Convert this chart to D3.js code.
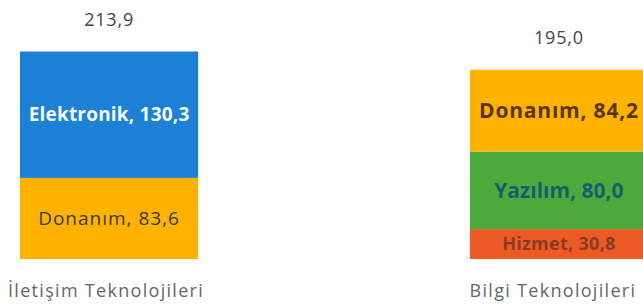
<!DOCTYPE html>
<html>
<head>
<meta charset="utf-8">
<script src="https://cdn.jsdelivr.net/npm/d3@7"></script>
<style>
  body { margin: 0; background: #fff; }
  text { font-family: "Open Sans", Lato, sans-serif; }
</style>
</head>
<body>
<svg id="chart" width="643" height="306"></svg>
<script>
// categories and stacked segments (bottom to top)
var categories = ["İletişim Teknolojileri", "Bilgi Teknolojileri"];
var segmentNames = [
  ["Donanım", "Elektronik"],
  ["Hizmet", "Yazılım", "Donanım"]
];
var segmentValues = [
  [83.6, 130.3],
  [30.8, 80.0, 84.2]
];
var totalLabels = ["213,9", "195,0"];

var fills = { "Elektronik": "#1b80d6", "Donanım": "#ffb200", "Yazılım": "#4caa3c", "Hizmet": "#ee5a26" };
// color, weight, size, letter spacing
var labelStyle = [
  { "Donanım": ["#3a3a3a", "normal", 19, 1], "Elektronik": ["#f4f8ff", "bold", 19, 0.2] },
  { "Donanım": ["#5a3508", "bold", 21, 0.8], "Yazılım": ["#1d5c6a", "bold", 21, 0], "Hizmet": ["#8a3b24", "bold", 18, 0.3] }
];
var catShift = [-3, -6];

var svg = d3.select("#chart");

var x = d3.scaleBand()
  .domain(categories)
  .range([20, 648])
  .paddingInner(0.604)
  .paddingOuter(0);

var y = d3.scaleLinear()
  .domain([0, 220])
  .range([259, 45.6]);

var fmt = function(v){ return v.toFixed(1).replace(".", ","); };

categories.forEach(function(cat, i){
  var segs = segmentValues[i].map(function(v, j){
    var base = d3.sum(segmentValues[i].slice(0, j));
    return { name: segmentNames[i][j], value: v, y0: base, y1: base + v };
  });

  var g = svg.append("g").attr("class", "stack");

  g.selectAll("rect")
    .data(segs)
    .enter()
    .append("rect")
    .attr("x", x(cat))
    .attr("width", x.bandwidth())
    .attr("y", function(d){ return y(d.y1); })
    .attr("height", function(d){ return y(d.y0) - y(d.y1); })
    .style("fill", function(d){ return fills[d.name]; });

  g.selectAll("text.segLabel")
    .data(segs)
    .enter()
    .append("text")
    .attr("class", "segLabel")
    .attr("x", x(cat) + x.bandwidth() / 2)
    .attr("y", function(d){ return (y(d.y0) + y(d.y1)) / 2; })
    .attr("dy", "0.35em")
    .attr("text-anchor", "middle")
    .style("font-size", function(d){ return labelStyle[i][d.name][2] + "px"; })
    .style("letter-spacing", function(d){ return labelStyle[i][d.name][3] + "px"; })
    .style("font-weight", function(d){ return labelStyle[i][d.name][1]; })
    .style("fill", function(d){ return labelStyle[i][d.name][0]; })
    .text(function(d){ return d.name + ", " + fmt(d.value); });

  var total = d3.sum(segmentValues[i]);
  svg.append("text")
    .attr("x", x(cat) + x.bandwidth() / 2)
    .attr("y", y(total) - 32)
    .attr("dy", "0.35em")
    .attr("text-anchor", "middle")
    .style("font-size", "18px")
    .style("letter-spacing", "0.8px")
    .style("fill", "#444")
    .text(totalLabels[i]);

  svg.append("text")
    .attr("x", x(cat) + x.bandwidth() / 2 + catShift[i])
    .attr("y", 297)
    .attr("text-anchor", "middle")
    .style("font-size", "18px")
    .style("letter-spacing", "1.3px")
    .style("fill", "#666")
    .text(cat);
});
</script>
</body>
</html>
